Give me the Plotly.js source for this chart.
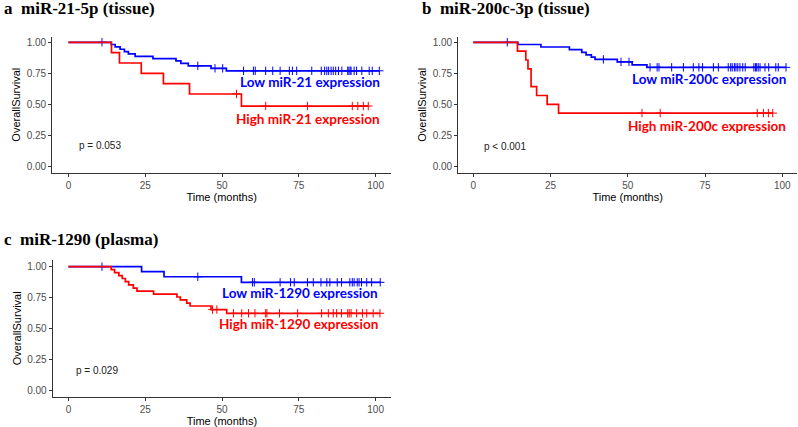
<!DOCTYPE html>
<html>
<head>
<meta charset="utf-8">
<script src="https://cdn.plot.ly/plotly-3.0.1.min.js"></script>
<style>html,body{margin:0;padding:0;background:#fff;}#chart{width:798px;height:427px;}</style>
</head>
<body>
<div id="chart"></div>
<script>
// ---------- Data ----------
// Panel a: miR-21-5p (tissue)
const aLowStepT   = [13.9, 15.2, 16.8, 18.2, 19.5, 21.7, 27.5, 35.0, 36.6, 39.0, 46.4, 51.4];
const aLowStepS   = [0.982, 0.963, 0.944, 0.925, 0.906, 0.887, 0.868, 0.850, 0.830, 0.810, 0.790, 0.770];
const aLowEnd     = 101.2;
const aLowCens    = [10.9, 42.1, 47.7, 50.2, 57.0, 60.2, 60.8, 64.2, 66.5, 68.9, 71.9, 72.9, 74.3, 79.2, 82.3, 83.4, 84.1, 84.7, 85.5, 86.2, 87.0, 87.9, 89.0, 90.9, 91.3, 91.7, 92.0, 93.0, 93.8, 95.5, 97.9, 98.9, 101.2];
const aHighStepT  = [14.0, 16.6, 23.7, 30.9, 39.4, 56.3];
const aHighStepS  = [0.917, 0.833, 0.750, 0.667, 0.583, 0.486];
const aHighEnd    = 97.6;
const aHighCens   = [54.7, 64.2, 77.8, 92.4, 94.2, 96.0, 97.6];

// Panel b: miR-200c-3p (tissue)
const bLowStepT   = [14.4, 21.9, 31.1, 35.1, 36.5, 38.2, 39.4, 46.6, 51.4, 56.2];
const bLowStepS   = [0.982, 0.962, 0.940, 0.919, 0.898, 0.880, 0.862, 0.842, 0.818, 0.798];
const bLowEnd     = 101.2;
const bLowCens    = [11.0, 42.1, 47.8, 50.4, 57.2, 59.5, 60.1, 64.2, 68.0, 71.2, 73.0, 74.2, 77.7, 79.3, 82.5, 83.3, 83.8, 84.5, 85.0, 85.6, 86.3, 87.2, 88.0, 90.8, 91.3, 91.7, 92.2, 92.8, 94.4, 95.6, 97.9, 98.7, 101.2];
const bHighStepT  = [14.3, 17.0, 17.7, 18.7, 20.5, 23.9, 27.6];
const bHighStepS  = [0.929, 0.857, 0.786, 0.643, 0.571, 0.500, 0.429];
const bHighEnd    = 96.9;
const bHighCens   = [54.6, 60.5, 91.9, 93.9, 95.5, 96.9];

// Panel c: miR-1290 (plasma)
const cLowStepT   = [23.8, 31.1, 56.3];
const cLowStepS   = [0.960, 0.918, 0.873];
const cLowEnd     = 101.5;
const cLowCens    = [10.9, 42.1, 59.9, 60.5, 68.9, 72.3, 73.5, 77.8, 79.7, 82.2, 84.1, 85.1, 87.5, 88.9, 91.6, 92.4, 93.0, 94.0, 94.6, 95.4, 97.1, 98.7, 101.5];
const cHighStepT  = [13.9, 15.0, 16.4, 17.5, 18.5, 19.6, 21.1, 22.3, 27.7, 35.3, 36.4, 38.5, 39.6, 46.4, 51.5];
const cHighStepS  = [0.976, 0.952, 0.928, 0.904, 0.878, 0.852, 0.826, 0.802, 0.778, 0.754, 0.730, 0.705, 0.681, 0.652, 0.622];
const cHighEnd    = 101.4;
const cHighCens   = [46.9, 48.3, 53.7, 56.4, 58.6, 60.7, 64.2, 64.6, 68.7, 74.6, 82.4, 84.6, 86.2, 87.3, 88.9, 90.9, 91.4, 92.0, 93.8, 95.7, 97.1, 99.2, 101.4];

// Labels
const panelTitles = ['a\u00A0\u00A0miR-21-5p (tissue)', 'b\u00A0\u00A0miR-200c-3p (tissue)', 'c\u00A0\u00A0miR-1290 (plasma)'];
const lowLabels   = ['Low miR-21 expression', 'Low miR-200c expression', 'Low miR-1290 expression'];
const highLabels  = ['High miR-21 expression', 'High miR-200c expression', 'High miR-1290 expression'];
const pValues     = ['p = 0.053', 'p < 0.001', 'p = 0.029'];
const xTickVals   = [0, 25, 50, 75, 100];
const yTickVals   = [0, 0.25, 0.5, 0.75, 1];

// ---------- Helpers ----------
const BLUE = '#0000ff', RED = '#ff0000';
function curve(stepT, stepS, end) {
  return { x: [0].concat(stepT, [end]), y: [1].concat(stepS, [stepS[stepS.length - 1]]) };
}
function survAt(stepT, stepS, t) {
  let s = 1;
  for (let i = 0; i < stepT.length; i++) if (stepT[i] <= t) s = stepS[i];
  return s;
}
function groupTraces(stepT, stepS, end, cens, color, xa, ya) {
  const c = curve(stepT, stepS, end);
  return [
    { type: 'scatter', mode: 'lines', x: c.x, y: c.y, xaxis: xa, yaxis: ya,
      line: { color: color, width: 1.7, shape: 'hv' }, hoverinfo: 'skip' },
    { type: 'scatter', mode: 'markers', x: cens, y: cens.map(t => survAt(stepT, stepS, t)),
      xaxis: xa, yaxis: ya,
      marker: { symbol: 'cross-thin', size: 6, color: color, line: { color: color, width: 1 } },
      hoverinfo: 'skip' }
  ];
}

const traces = [].concat(
  groupTraces(aLowStepT, aLowStepS, aLowEnd, aLowCens, BLUE, 'x', 'y'),
  groupTraces(aHighStepT, aHighStepS, aHighEnd, aHighCens, RED, 'x', 'y'),
  groupTraces(bLowStepT, bLowStepS, bLowEnd, bLowCens, BLUE, 'x2', 'y2'),
  groupTraces(bHighStepT, bHighStepS, bHighEnd, bHighCens, RED, 'x2', 'y2'),
  groupTraces(cLowStepT, cLowStepS, cLowEnd, cLowCens, BLUE, 'x3', 'y3'),
  groupTraces(cHighStepT, cHighStepS, cHighEnd, cHighCens, RED, 'x3', 'y3')
);

// ---------- Layout ----------
const W = 798, H = 427;
const tickFont = { family: 'Liberation Sans, Arial, sans-serif', size: 10, color: '#4d4d4d' };
const titleFont = { family: 'Liberation Sans, Arial, sans-serif', size: 11, color: '#000' };
function xAxis(dom, range, anchor) {
  return { domain: dom, range: range, anchor: anchor, showline: true, linecolor: '#333', linewidth: 1.2,
    ticks: 'outside', ticklen: 3, tickwidth: 1, tickcolor: '#333', showgrid: false, zeroline: false,
    tickvals: xTickVals, tickfont: tickFont, fixedrange: true,
    title: { text: 'Time (months)', font: titleFont, standoff: 2 } };
}
function yAxis(dom, range, anchor) {
  return { domain: dom, range: range, anchor: anchor, showline: true, linecolor: '#333', linewidth: 1.2,
    ticks: 'outside', ticklen: 3, tickwidth: 1, tickcolor: '#333', showgrid: false, zeroline: false,
    tickvals: yTickVals, tickformat: '.2f', tickfont: tickFont, fixedrange: true,
    title: { text: 'OverallSurvival', font: titleFont, standoff: 3 } };
}
const topDom = [1 - 172.7 / H, 1 - 36.7 / H];
const botDom = [1 - 396.7 / H, 1 - 260 / H];

const labelFont = (c) => ({ family: 'Lato, Open Sans, sans-serif', size: 13.5, color: c });
const pFont = { family: 'Liberation Sans, Arial, sans-serif', size: 10, color: '#222' };
const headFont = { family: 'Liberation Serif, Times New Roman, serif', size: 17, color: '#000' };

const ann = [];
// panel titles
ann.push({ xref: 'paper', yref: 'paper', x: 2 / W, y: 1 - 8.5 / H, xanchor: 'left', yanchor: 'middle', text: '<b>' + panelTitles[0] + '</b>', showarrow: false, font: headFont });
ann.push({ xref: 'paper', yref: 'paper', x: 420 / W, y: 1 - 8.5 / H, xanchor: 'left', yanchor: 'middle', text: '<b>' + panelTitles[1] + '</b>', showarrow: false, font: headFont });
ann.push({ xref: 'paper', yref: 'paper', x: 2 / W, y: 1 - 240 / H, xanchor: 'left', yanchor: 'middle', text: '<b>' + panelTitles[2] + '</b>', showarrow: false, font: headFont });
// group labels
const labPos = [
  { xr: 'x', yr: 'y', x: 102.2, yl: 0.682, yh: 0.381 },
  { xr: 'x2', yr: 'y2', x: 101.9, yl: 0.700, yh: 0.325 },
  { xr: 'x3', yr: 'y3', x: 101.4, yl: 0.784, yh: 0.535 }
];
labPos.forEach((p, i) => {
  ann.push({ xref: p.xr, yref: p.yr, x: p.x, y: p.yl, xanchor: 'right', yanchor: 'middle', showarrow: false, text: '<b>' + lowLabels[i] + '</b>', font: labelFont(BLUE) });
  ann.push({ xref: p.xr, yref: p.yr, x: p.x, y: p.yh, xanchor: 'right', yanchor: 'middle', showarrow: false, text: '<b>' + highLabels[i] + '</b>', font: labelFont(RED) });
});
// p-values
ann.push({ xref: 'x', yref: 'y', x: 2.8, y: 0.166, xanchor: 'left', yanchor: 'middle', showarrow: false, text: pValues[0], font: pFont });
ann.push({ xref: 'x2', yref: 'y2', x: 2.8, y: 0.158, xanchor: 'left', yanchor: 'middle', showarrow: false, text: pValues[1], font: pFont });
ann.push({ xref: 'x3', yref: 'y3', x: 1.7, y: 0.162, xanchor: 'left', yanchor: 'middle', showarrow: false, text: pValues[2], font: pFont });

const layout = {
  width: W, height: H, margin: { l: 0, r: 0, t: 0, b: 0 },
  paper_bgcolor: '#fff', plot_bgcolor: '#fff', showlegend: false,
  xaxis:  xAxis([52.3 / W, 391 / W], [-5.27, 105.0], 'y'),
  yaxis:  yAxis(topDom, [-0.0516, 1.045], 'x'),
  xaxis2: xAxis([458.3 / W, 797 / W], [-4.85, 104.76], 'y2'),
  yaxis2: yAxis(topDom, [-0.0516, 1.045], 'x2'),
  xaxis3: xAxis([52.8 / W, 391 / W], [-5.11, 105.0], 'y3'),
  yaxis3: yAxis(botDom, [-0.0543, 1.054], 'x3'),
  annotations: ann
};

Plotly.newPlot('chart', traces, layout, { staticPlot: true, displayModeBar: false });
</script>
</body>
</html>
